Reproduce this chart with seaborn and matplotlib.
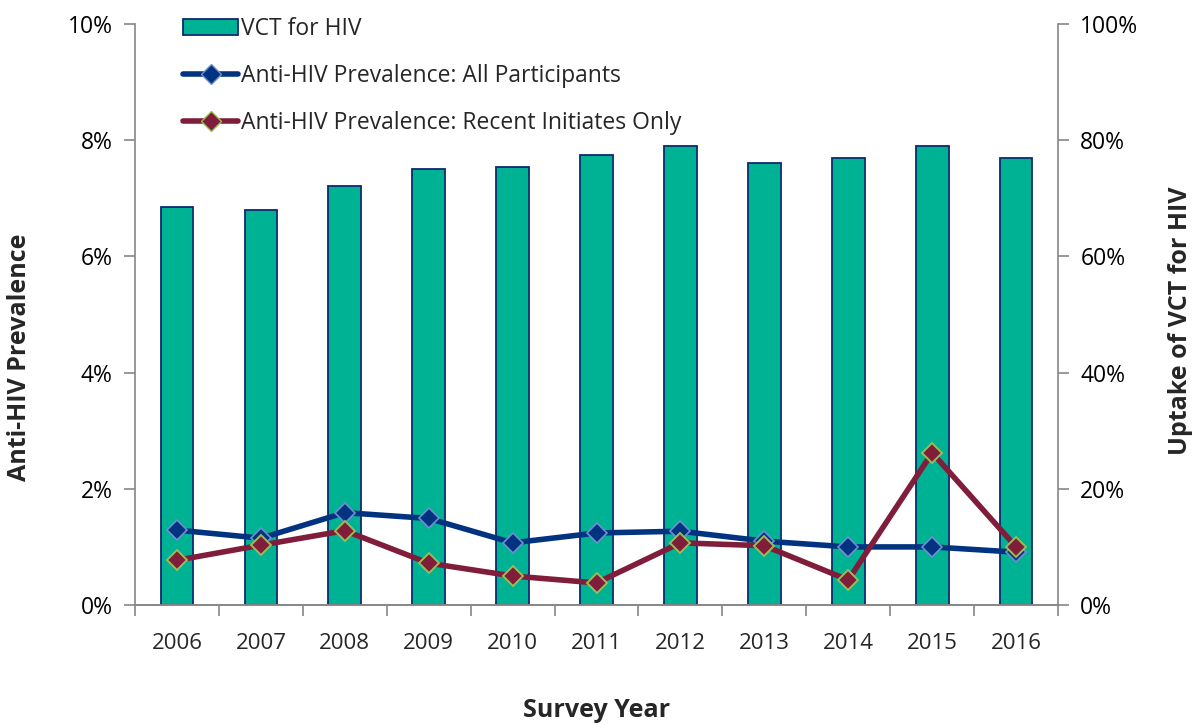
import numpy as np
import pandas as pd
import matplotlib
matplotlib.use("Agg")
import matplotlib.pyplot as plt
import seaborn as sns
from matplotlib.ticker import FuncFormatter, FixedLocator
from matplotlib.lines import Line2D
from matplotlib.patches import Patch

years = ["2006", "2007", "2008", "2009", "2010", "2011", "2012", "2013", "2014", "2015", "2016"]
vct_uptake = [68.5, 68.0, 72.1, 75.0, 75.4, 77.5, 79.0, 76.1, 77.0, 79.0, 77.0]
prev_all = [1.29, 1.15, 1.59, 1.49, 1.07, 1.24, 1.27, 1.10, 1.00, 1.00, 0.91]
prev_recent = [0.77, 1.03, 1.28, 0.72, 0.50, 0.38, 1.07, 1.02, 0.43, 2.62, 1.00]

df = pd.DataFrame({"year": years, "vct": vct_uptake, "all": prev_all, "recent": prev_recent})

sns.set_theme(style="white")
plt.rcParams["font.family"] = ["Open Sans", "DejaVu Sans"]

teal = "#00B294"
navy = "#0B2A6E"
blue = "#023381"
maroon = "#7F1D3A"

fig = plt.figure(figsize=(11.95, 7.25), dpi=100)
ax = fig.add_axes([0.113, 0.1655, 0.7724, 0.8014])
ax2 = ax.twinx()

sns.barplot(data=df, x="year", y="vct", ax=ax2, color=teal, width=0.39,
            edgecolor=navy, linewidth=1.3, saturation=1)

sns.pointplot(data=df, x="year", y="all", ax=ax, color=blue, markers="D",
              linewidth=4, markersize=10, markeredgecolor="#6F8FD0", markeredgewidth=1.2)
sns.pointplot(data=df, x="year", y="recent", ax=ax, color=maroon, markers="D",
              linewidth=4, markersize=10, markeredgecolor="#9BBB59", markeredgewidth=1.4)

ax.set_zorder(ax2.get_zorder() + 1)
ax.patch.set_visible(False)

ax.set_ylim(0, 10)
ax2.set_ylim(0, 100)
ax.set_xlim(-0.5, 10.5)
ax.set_yticks(np.arange(0, 11, 2))
ax2.set_yticks(np.arange(0, 101, 20))
ax.yaxis.set_major_formatter(FuncFormatter(lambda v, p: f"{v:.0f}%"))
ax2.yaxis.set_major_formatter(FuncFormatter(lambda v, p: f"{v:.0f}%"))

spine_col = "#868686"
for a in (ax, ax2):
    for s in a.spines.values():
        s.set_color(spine_col)
        s.set_linewidth(1.2)
    a.spines["top"].set_visible(False)
    a.tick_params(axis="y", labelsize=16.5, colors="black", direction="out", length=8, width=1.2, color=spine_col, pad=8)
    a.grid(False)
ax.spines["right"].set_visible(False)
ax2.spines["left"].set_visible(False)

ax.set_xticks(range(len(years)))
ax.set_xticklabels(years)
ax.xaxis.set_minor_locator(FixedLocator(np.arange(-0.5, 11, 1)))
ax.tick_params(axis="x", which="major", length=0, labelsize=16, pad=20)
ax.tick_params(axis="x", which="minor", length=8, width=1.2, color=spine_col, direction="out", bottom=True)

ax.set_xlabel("Survey Year", fontsize=18, fontweight="bold")
ax.xaxis.set_label_coords(0.5, -0.160)
ax.set_ylabel("Anti-HIV Prevalence", fontsize=18, fontweight="bold")
ax.yaxis.set_label_coords(-0.112, 0.427)
ax2.set_ylabel("Uptake of VCT for HIV", fontsize=18, fontweight="bold", rotation=90)
ax2.yaxis.set_label_coords(1.119, 0.49)

handles = [
    Patch(facecolor=teal, edgecolor=navy, linewidth=1.3),
    Line2D([], [], color=blue, lw=4, marker="D", markersize=10, markeredgecolor="#6F8FD0"),
    Line2D([], [], color=maroon, lw=4, marker="D", markersize=10, markeredgecolor="#9BBB59"),
]
labels = ["VCT for HIV", "Anti-HIV Prevalence: All Participants",
          "Anti-HIV Prevalence: Recent Initiates Only"]
ax.legend(handles, labels, loc="upper left", bbox_to_anchor=(0.052, 1.012), frameon=False,
          borderaxespad=0, borderpad=0,
          fontsize=16.5, handlelength=2.4, handleheight=0.7, handletextpad=0.15, labelspacing=1.0)

fig.savefig("out.png", dpi=100)
